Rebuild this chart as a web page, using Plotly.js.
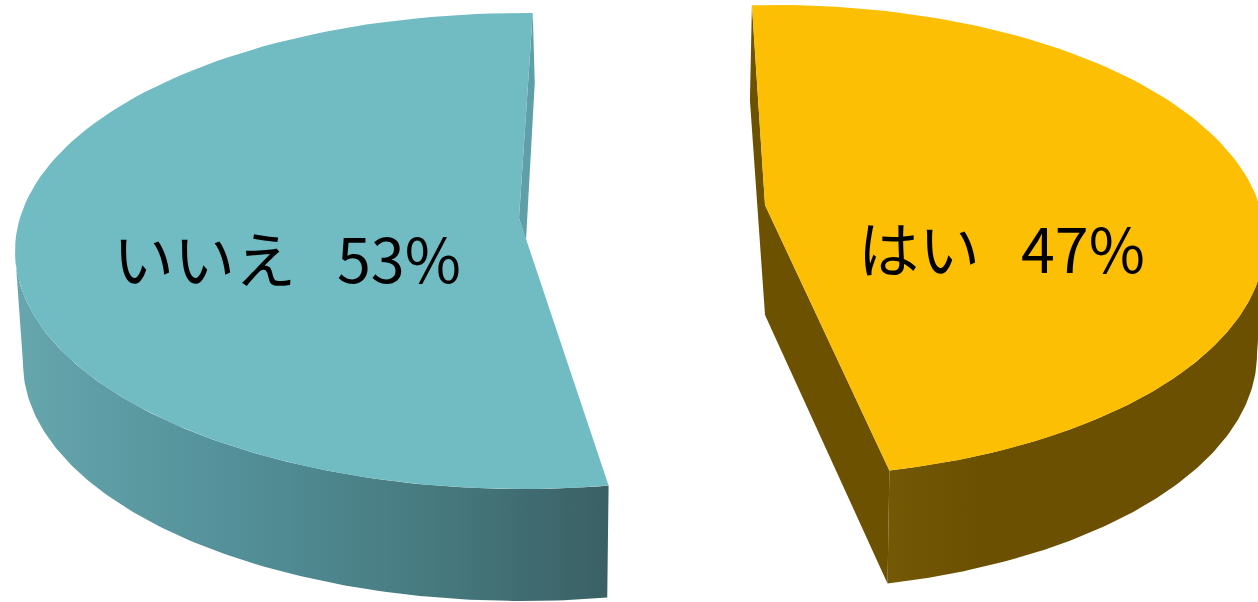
<!DOCTYPE html>
<html>
<head>
<meta charset="utf-8">
<script src="https://cdn.plot.ly/plotly-3.0.1.min.js"></script>
<style>html,body{margin:0;padding:0;background:#fff;overflow:hidden}#chart{width:1258px;height:602px}</style>
</head>
<body>
<div id="chart"></div>
<script>
// Survey answers, in percent
const labels = ['いいえ', 'はい'];
const shares = [53, 47];

const topColors = ['#71bbc2', '#fcbf03'];
const edgeColors = ['#5f9fa7', '#6b5100'];
const wallScales = [
  [[0, '#66a6ad'], [0.35, '#54919a'], [0.7, '#467a7f'], [1, '#3a6065']],
  [[0, '#735806'], [0.25, '#6a5000'], [1, '#6a5000']]
];

// Exploded slice geometry on a pixel-scaled plane: each slice is a tilted
// disc with its own rim ellipse, apex and wall height.
const slices = [
  {cx: 523, cy: 251, a: 508, b: 238, start: 1.1, dir: -1, apex: [519, 218], depth: 112, a2: 500,
   labelAt: [287, 256]},
  {cx: 775, cy: 241, a: 490, b: 236, start: -2.7, dir: 1, apex: [765, 205], depth: 113, a2: 482,
   labelAt: [1001, 246]}
];

const rad = d => d * Math.PI / 180;

function rim(s, a, dy, t0, t1) {
  const xs = [], ys = [], steps = 120;
  for (let i = 0; i <= steps; i++) {
    const t = rad(t0 + (t1 - t0) * i / steps);
    xs.push(s.cx + a * Math.sin(t));
    ys.push(s.cy + dy - s.b * Math.cos(t));
  }
  return [xs, ys];
}

function polygon(xs, ys, fill) {
  return Object.assign({
    type: 'scatter', mode: 'lines', x: xs, y: ys, fill: 'toself',
    line: {width: 0}, hoverinfo: 'skip', showlegend: false
  }, fill);
}

const traces = [];
const annotations = [];

slices.forEach((s, i) => {
  const end = s.start + s.dir * shares[i] * 3.6;
  const side = s.dir * 90;

  // Outer wall: visible from the silhouette of the rim round to the cut edge
  const [wx0, wy0] = rim(s, s.a, 0, side, end);
  const [wx1, wy1] = rim(s, s.a2, s.depth, end, side);
  traces.push(polygon(wx0.concat(wx1), wy0.concat(wy1),
    {fillgradient: {type: 'horizontal', colorscale: wallScales[i]}, fillcolor: edgeColors[i]}));

  // Cut faces behind the top surface
  const [ex, ey] = rim(s, s.a, 0, end, end);
  const [bx, by] = rim(s, s.a2, s.depth, end, end);
  const [sx, sy] = rim(s, s.a, 0, s.start, s.start);
  if (i === 0) {
    traces.push(polygon(
      [sx[0], s.apex[0], s.apex[0] + 7, sx[0] + 2, sx[0]],
      [sy[0], s.apex[1], s.apex[1] + 22, sy[0] + 70, sy[0]],
      {fillcolor: edgeColors[i]}));
  } else {
    traces.push(polygon(
      [sx[0], s.apex[0], ex[0], bx[0], s.apex[0], sx[0] - 2, sx[0]],
      [sy[0], s.apex[1], ey[0], by[0], s.apex[1] + 110, sy[0] + 95, sy[0]],
      {fillcolor: edgeColors[i]}));
  }

  // Top surface, swept through the slice's share of the circle
  const [tx, ty] = rim(s, s.a, 0, s.start, end);
  traces.push(polygon(tx.concat([s.apex[0], tx[0]]), ty.concat([s.apex[1], ty[0]]),
    {fillcolor: topColors[i]}));

  annotations.push({
    x: s.labelAt[0], y: s.labelAt[1], xref: 'x', yref: 'y', showarrow: false,
    text: labels[i] + '\u00a0\u00a0\u00a0' + shares[i] + '%',
    font: {family: '"Noto Sans CJK JP", sans-serif', size: 61, color: '#000'}
  });
});

Plotly.newPlot('chart', traces, {
  width: 1258, height: 602,
  margin: {l: 0, r: 0, t: 0, b: 0},
  paper_bgcolor: '#fff', plot_bgcolor: '#fff',
  xaxis: {range: [0, 1258], visible: false, fixedrange: true},
  yaxis: {range: [602, 0], visible: false, fixedrange: true},
  showlegend: false,
  annotations: annotations
}, {displayModeBar: false, staticPlot: true});
</script>
</body>
</html>
